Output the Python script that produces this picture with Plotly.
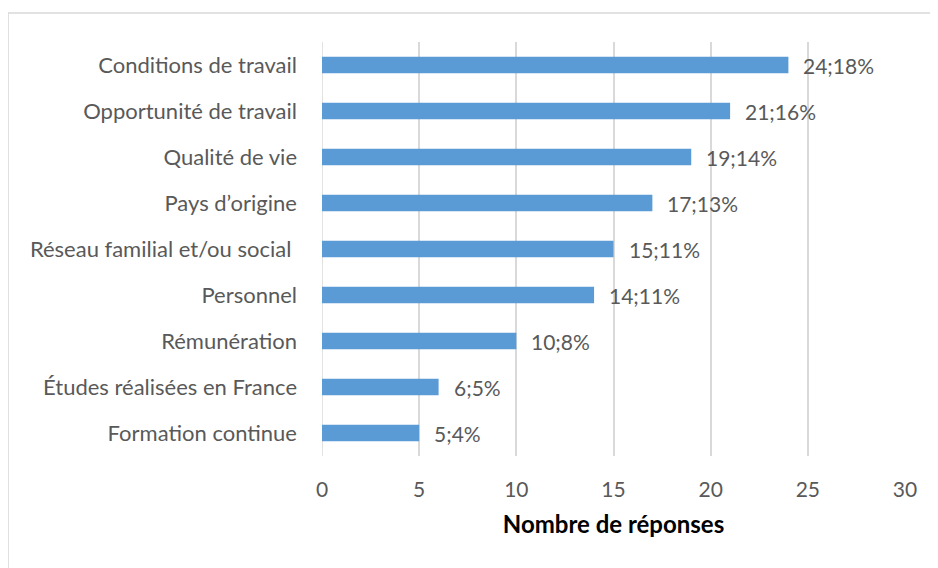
import plotly.graph_objects as go

# categories from bottom to top as plotly draws them
categories = [
    "Formation continue",
    "Études réalisées en France",
    "Rémunération",
    "Personnel",
    "Réseau familial et/ou social\u00a0",
    "Pays d’origine",
    "Qualité de vie",
    "Opportunité de travail",
    "Conditions de travail",
]
responses = [5, 6, 10, 14, 15, 17, 19, 21, 24]
percents = [4, 5, 8, 11, 11, 13, 14, 16, 18]
x_ticks = [0, 5, 10, 15, 20, 25, 30]

BLUE = "#5B9BD5"
GREY_TXT = "#595959"
GRID = "#D9D9D9"
FONT = "Lato"

fig = go.Figure()
fig.add_trace(
    go.Bar(
        x=responses,
        y=categories,
        orientation="h",
        marker=dict(color=BLUE, line=dict(width=0)),
        width=0.36,
        hoverinfo="none",
    )
)

# data labels "n;p%" just right of each bar
for n, p, cat in zip(responses, percents, categories):
    fig.add_annotation(
        x=n, y=cat, text=f"{n};{p}%",
        showarrow=False, xanchor="left", xshift=13,
        font=dict(family=FONT, size=21, color=GREY_TXT),
    )

# light frame of the chart area (right/bottom edges fall outside the page)
fig.add_shape(
    type="rect", xref="paper", yref="paper",
    x0=-0.5385, x1=1.2, y0=-0.5, y1=1.0700,
    line=dict(color=GRID, width=1.5), fillcolor="rgba(0,0,0,0)",
    layer="below",
)

fig.update_layout(
    width=930, height=560,
    margin=dict(l=314, r=33, t=34, b=112),
    paper_bgcolor="white", plot_bgcolor="white",
    showlegend=False,
    font=dict(family=FONT, size=20, color=GREY_TXT),
)
fig.update_xaxes(
    range=[0, 30], tickvals=x_ticks,
    showgrid=True, gridcolor=GRID, gridwidth=1.5,
    zeroline=False, showline=False, ticks="",
    ticklabelstandoff=19,
    tickfont=dict(family=FONT, size=21, color=GREY_TXT),
    title=dict(text="<b>Nombre de réponses</b>", standoff=16,
               font=dict(family=FONT, size=24, color="black")),
)
fig.update_yaxes(
    showgrid=False, zeroline=False, showline=False, ticks="",
    ticklabelstandoff=24,
    tickfont=dict(family=FONT, size=22, color=GREY_TXT),
)
# grid line at 0 acting as the vertical axis
fig.add_vline(x=0, line=dict(color=GRID, width=1.5), layer="below")

fig.write_html("out.html")
